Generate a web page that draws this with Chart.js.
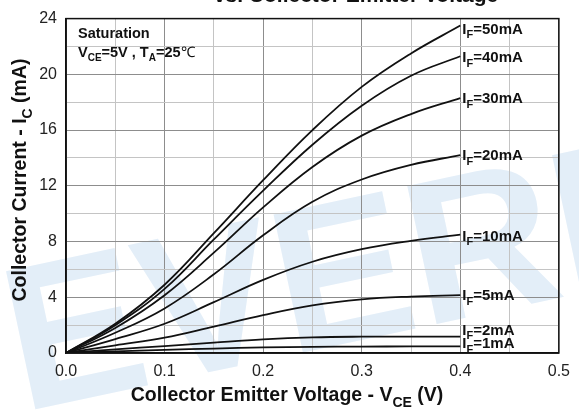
<!DOCTYPE html>
<html>
<head>
<meta charset="utf-8">
<script src="https://cdn.jsdelivr.net/npm/chart.js@4"></script>
<style>
  html, body { margin: 0; padding: 0; background: #fff; }
  #graph { display: block; }
</style>
</head>
<body>
<canvas id="graph" width="579" height="410"></canvas>
<script>
// Collector voltage samples (V)
const VCE = [0, 0.05, 0.1, 0.15, 0.2, 0.25, 0.3, 0.35, 0.4];

// Forward current of each curve (mA)
const IF_MA = [1, 2, 5, 10, 20, 30, 40, 50];

// Collector current (mA) for each forward current, sampled at VCE
const IC_1MA = [0, 0.12, 0.22, 0.32, 0.40, 0.44, 0.46, 0.47, 0.47];
const IC_2MA = [0, 0.26, 0.50, 0.75, 0.98, 1.12, 1.17, 1.18, 1.18];
const IC_5MA = [0, 0.55, 1.10, 1.90, 2.72, 3.42, 3.85, 4.05, 4.15];
const IC_10MA = [0, 1.00, 2.10, 3.65, 5.25, 6.55, 7.45, 8.05, 8.50];
const IC_20MA = [0, 1.45, 3.20, 5.65, 8.45, 10.85, 12.45, 13.50, 14.20];
const IC_30MA = [0, 1.80, 4.15, 7.20, 10.45, 13.35, 15.60, 17.15, 18.30];
const IC_40MA = [0, 2.00, 4.60, 8.15, 11.65, 14.95, 17.75, 19.90, 21.30];
const IC_50MA = [0, 2.10, 4.90, 8.60, 12.40, 16.00, 19.10, 21.50, 23.50];

const X_TICKS = ['0.0', '0.1', '0.2', '0.3', '0.4', '0.5'];
const Y_TICKS = ['0', '4', '8', '12', '16', '20', '24'];

const SERIES = [IC_1MA, IC_2MA, IC_5MA, IC_10MA, IC_20MA, IC_30MA, IC_40MA, IC_50MA];

// vertical nudge (px) for the end-of-curve labels, so the low ones don't collide
const LABEL_NUDGE = [-3, -7, 0, 1, 0, 0, 1, 3];

const FONT = '"Liberation Sans", Arial, sans-serif';

/**
 * Draws a run of text pieces, some of them as subscripts.
 * parts: [{ t: 'text', sub: true|false }]
 */
function drawRich(ctx, parts, x, y, size, align) {
  const subSize = Math.round(size * 0.72);
  let width = 0;
  parts.forEach((p) => {
    ctx.font = (p.weight || 'bold') + ' ' + (p.sub ? subSize : size) + 'px ' + FONT;
    p.w = ctx.measureText(p.t).width;
    width += p.w;
  });
  let cx = x;
  if (align === 'center') cx = x - width / 2;
  ctx.textAlign = 'left';
  ctx.textBaseline = 'alphabetic';
  parts.forEach((p) => {
    ctx.font = (p.weight || 'bold') + ' ' + (p.sub ? subSize : size) + 'px ' + FONT;
    ctx.fillText(p.t, cx, p.sub ? y + size * 0.3 : y);
    cx += p.w;
  });
}

const decorations = {
  id: 'decorations',
  beforeDraw(chart) {
    const ctx = chart.ctx;
    ctx.save();
    ctx.fillStyle = '#fff';
    ctx.fillRect(0, 0, chart.width, chart.height);
    // faint brand watermark behind the plot
    ctx.translate(22, 412);
    ctx.rotate(-12 * Math.PI / 180);
    ctx.font = 'bold 205px ' + FONT;
    ctx.fillStyle = '#e3eef8';
    ctx.fillText('EVERLIGHT', 0, 0);
    ctx.restore();
  },
  afterDatasetsDraw(chart) {
    const ctx = chart.ctx;
    const area = chart.chartArea;
    ctx.save();

    // plot frame
    ctx.strokeStyle = '#111';
    ctx.lineWidth = 1.5;
    ctx.strokeRect(area.left, area.top, area.right - area.left, area.bottom - area.top);

    ctx.fillStyle = '#111';

    // curve labels at the end of each line
    chart.data.datasets.forEach((ds, i) => {
      const pts = chart.getDatasetMeta(i).data;
      const end = pts[pts.length - 1];
      drawRich(ctx, [
        { t: 'I' }, { t: 'F', sub: true }, { t: '=' + IF_MA[i] + 'mA' },
      ], end.x + 2, end.y + 5 + LABEL_NUDGE[i], 15, 'left');
    });

    // test conditions
    drawRich(ctx, [{ t: 'Saturation' }], 78, 38, 14.5, 'left');
    drawRich(ctx, [
      { t: 'V' }, { t: 'CE', sub: true }, { t: '=5V , T' }, { t: 'A', sub: true },
      { t: '=25' }, { t: '\u2103', weight: 'normal' },
    ], 78, 57, 14.5, 'left');

    // chart title (top line runs off the canvas)
    drawRich(ctx, [{ t: 'vs. Collector Emitter Voltage' }], 356, 2, 21, 'center');

    // axis titles
    drawRich(ctx, [
      { t: 'Collector Emitter Voltage - V' }, { t: 'CE', sub: true }, { t: ' (V)' },
    ], 287, 401, 19.5, 'center');

    ctx.translate(26, 180);
    ctx.rotate(-Math.PI / 2);
    drawRich(ctx, [
      { t: 'Collector Current - I' }, { t: 'C', sub: true }, { t: ' (mA)' },
    ], 0, 0, 19.5, 'center');

    ctx.restore();
  },
};

function gridColour(ctx) {
  const v = ctx.tick ? ctx.tick.value : 0;
  return ctx.scale.axis === 'x'
    ? (Math.round(v * 100) % 10 === 0 ? '#8d8d8d' : '#c4c4c4')
    : (Math.round(v) % 4 === 0 ? '#8d8d8d' : '#c4c4c4');
}

const canvas = document.getElementById('graph');
new Chart(canvas.getContext('2d'), {
  type: 'line',
  data: {
    datasets: SERIES.map((ic, i) => ({
      label: 'IF=' + IF_MA[i] + 'mA',
      data: VCE.map((v, k) => ({ x: v, y: ic[k] })),
      borderColor: '#111',
      borderWidth: 1.8,
      pointRadius: 0,
      fill: false,
      tension: 0.4,
    })),
  },
  options: {
    responsive: false,
    animation: false,
    layout: { padding: { top: 7, right: 13, left: 0, bottom: 0 } },
    plugins: {
      legend: { display: false },
      tooltip: { enabled: false },
    },
    scales: {
      x: {
        type: 'linear',
        min: 0,
        max: 0.5,
        afterFit: (s) => { s.height = 57; },
        border: { display: true, color: '#111', width: 1.5 },
        grid: { color: gridColour, lineWidth: 1, drawTicks: false },
        ticks: {
          stepSize: 0.05,
          autoSkip: false,
          maxRotation: 0,
          padding: 9,
          color: '#222',
          font: { family: FONT, size: 16 },
          callback: (v) => {
            const n = Math.round(v * 100);
            return n % 10 === 0 ? X_TICKS[n / 10] : '';
          },
        },
      },
      y: {
        min: 0,
        max: 24,
        afterFit: (s) => { s.width = 66; },
        border: { display: true, color: '#111', width: 1.5 },
        grid: { color: gridColour, lineWidth: 1, drawTicks: false },
        ticks: {
          stepSize: 2,
          autoSkip: false,
          padding: 9,
          color: '#222',
          font: { family: FONT, size: 16 },
          callback: (v) => (Math.round(v) % 4 === 0 ? Y_TICKS[Math.round(v) / 4] : ''),
        },
      },
    },
  },
  plugins: [decorations],
});
</script>
</body>
</html>
